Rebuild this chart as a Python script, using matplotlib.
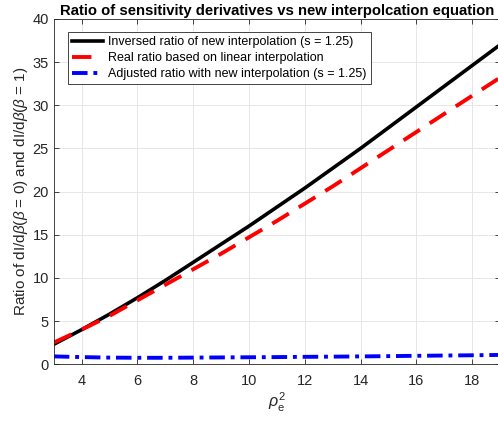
import numpy as np
import matplotlib.pyplot as plt

plt.rcParams['font.family'] = ['Liberation Sans', 'DejaVu Sans']
plt.rcParams['mathtext.fontset'] = 'custom'
plt.rcParams['mathtext.rm'] = 'Liberation Sans'
plt.rcParams['mathtext.it'] = 'Liberation Sans:italic'

# values
rho2 = [3, 4, 5, 6, 7, 8, 9, 10, 11, 12, 13, 14, 15, 16, 17, 18, 19]
inv_ratio = [2.3, 4.0, 5.8, 7.7, 9.7, 11.8, 13.9, 16.0, 18.2, 20.4, 22.7,
             25.0, 27.4, 29.8, 32.2, 34.6, 37.0]
real_ratio = [2.5, 4.0, 5.6, 7.4, 9.2, 11.0, 12.8, 14.7, 16.6, 18.6, 20.6,
              22.7, 24.8, 26.9, 29.0, 31.1, 33.2]
adj_ratio = [0.9, 0.82, 0.76, 0.74, 0.74, 0.76, 0.78, 0.8, 0.82, 0.85, 0.87,
             0.9, 0.93, 0.97, 1.0, 1.03, 1.07]

fig = plt.figure(figsize=(4.98, 4.21), dpi=100)
ax = fig.add_axes([0.108, 0.135, 0.896, 0.82])

ax.plot(rho2, inv_ratio, color='black', lw=2.6,
        label='Inversed ratio of new interpolation (s = 1.25)')
ax.plot(rho2, real_ratio, color='red', lw=2.8, dashes=(5, 3),
        label='Real ratio based on linear interpolation')
ax.plot(rho2, adj_ratio, color='blue', lw=2.8, dashes=(4, 1.5, 1, 1.5),
        label='Adjusted ratio with new interpolation (s = 1.25)')

ax.set_xlim(3, 19)
ax.set_ylim(0, 40)
ax.set_xticks(range(4, 19, 2))
ax.set_yticks(range(0, 41, 5))
ax.grid(True, color='#e6e6e6', lw=0.7)
ax.set_axisbelow(True)
ax.tick_params(direction='in', top=True, right=True, labelsize=10.5,
               colors='#262626', length=3.5, width=0.6)
ax.tick_params(axis='x', pad=7)
for s in ax.spines.values():
    s.set_color('#262626')
    s.set_linewidth(0.6)

ax.set_xlabel(r'$\rho_\mathrm{e}^2$', fontsize=11.5, color='#262626', labelpad=2)
ax.set_ylabel(r'Ratio of dI/d$\beta$($\beta$ = 0) and dI/d$\beta$($\beta$ = 1)',
              fontsize=11, color='#262626', labelpad=2)
ax.set_title('Ratio of sensitivity derivatives vs new interpolcation equation',
             fontsize=10.7, fontweight='bold', pad=3)

leg = ax.legend(loc='upper left', fontsize=9, handlelength=2.5,
                fancybox=False, framealpha=1, edgecolor='#262626',
                bbox_to_anchor=(0.031, 0.962), borderaxespad=0,
                labelspacing=0.3, handletextpad=0.4, borderpad=0.35)
leg.get_frame().set_linewidth(0.6)

fig.savefig('out.png', dpi=100)
